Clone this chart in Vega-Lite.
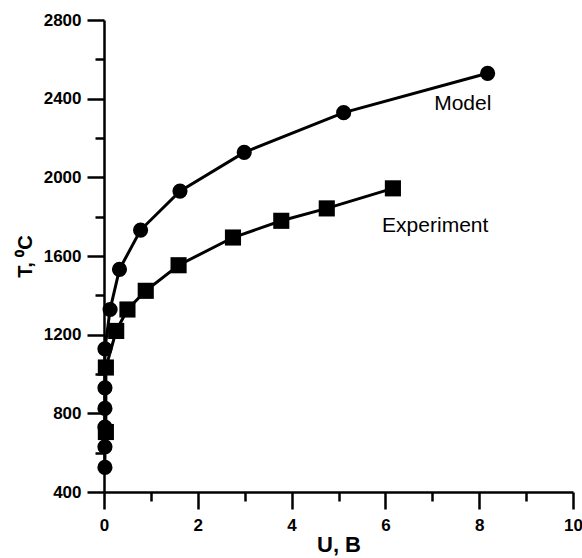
{
  "$schema": "https://vega.github.io/schema/vega-lite/v6.json",
  "width": 469,
  "height": 472,
  "autosize": "none",
  "padding": {"left": 104, "top": 20, "right": 9, "bottom": 66},
  "background": "white",
  "config": {
    "view": {"stroke": null},
    "font": "Liberation Sans"
  },
  "datasets": {
    "model": [
      {"U": 0.02, "T": 525},
      {"U": 0.02, "T": 630},
      {"U": 0.02, "T": 730},
      {"U": 0.02, "T": 825},
      {"U": 0.02, "T": 930},
      {"U": 0.02, "T": 1128},
      {"U": 0.13, "T": 1328},
      {"U": 0.33, "T": 1532},
      {"U": 0.78, "T": 1732},
      {"U": 1.62, "T": 1930},
      {"U": 2.99, "T": 2127},
      {"U": 5.11, "T": 2329},
      {"U": 8.18, "T": 2529}
    ],
    "experiment": [
      {"U": 0.04, "T": 705},
      {"U": 0.04, "T": 1033},
      {"U": 0.26, "T": 1219},
      {"U": 0.5, "T": 1328},
      {"U": 0.89, "T": 1423},
      {"U": 1.59, "T": 1553},
      {"U": 2.75, "T": 1694},
      {"U": 3.78, "T": 1779},
      {"U": 4.75, "T": 1842},
      {"U": 6.16, "T": 1944}
    ],
    "labels": [
      {"U": 7.04, "T": 2342, "label": "Model"},
      {"U": 5.93, "T": 1723, "label": "Experiment"}
    ]
  },
  "encoding": {
    "x": {
      "field": "U",
      "type": "quantitative",
      "scale": {"domain": [0, 10], "nice": false, "zero": false},
      "axis": {
        "title": "U, B",
        "values": [0, 1, 2, 3, 4, 5, 6, 7, 8, 9, 10],
        "labelExpr": "datum.value % 2 === 0 ? datum.label : ''",
        "grid": false,
        "domainColor": "black",
        "domainWidth": 2.5,
        "tickColor": "black",
        "tickWidth": 2.5,
        "tickSize": {"condition": {"test": "datum.value % 2 !== 0", "value": 9}, "value": 17},
        "labelFont": "Liberation Sans",
        "labelFontWeight": "bold",
        "labelFontSize": 17,
        "labelColor": "black",
        "labelPadding": 8,
        "labelFlush": false,
        "titleFont": "Liberation Sans",
        "titleFontWeight": "bold",
        "titleFontSize": 22,
        "titleColor": "black",
        "titlePadding": 1
      }
    },
    "y": {
      "field": "T",
      "type": "quantitative",
      "scale": {"domain": [400, 2800], "nice": false, "zero": false},
      "axis": {
        "title": "T, ⁰C",
        "values": [400, 600, 800, 1000, 1200, 1400, 1600, 1800, 2000, 2200, 2400, 2600, 2800],
        "labelExpr": "datum.value % 400 === 0 ? datum.label : ''",
        "format": "d",
        "grid": false,
        "domainColor": "black",
        "domainWidth": 2.5,
        "tickColor": "black",
        "tickWidth": 2.5,
        "tickSize": {"condition": {"test": "datum.value % 400 !== 0", "value": 9}, "value": 17},
        "labelFont": "Liberation Sans",
        "labelFontWeight": "bold",
        "labelFontSize": 17,
        "labelColor": "black",
        "labelPadding": 6,
        "labelFlush": false,
        "titleFont": "Liberation Sans",
        "titleFontWeight": "bold",
        "titleFontSize": 20,
        "titleColor": "black",
        "titlePadding": 8
      }
    }
  },
  "layer": [
    {
      "data": {"name": "model"},
      "mark": {"type": "line", "color": "black", "strokeWidth": 3, "interpolate": "linear"},
      "encoding": {"order": {"field": "T", "type": "quantitative"}}
    },
    {
      "data": {"name": "model"},
      "mark": {"type": "point", "shape": "circle", "filled": true, "color": "black", "opacity": 1, "size": 230}
    },
    {
      "data": {"name": "experiment"},
      "mark": {"type": "line", "color": "black", "strokeWidth": 3, "interpolate": "linear"},
      "encoding": {"order": {"field": "T", "type": "quantitative"}}
    },
    {
      "data": {"name": "experiment"},
      "mark": {"type": "point", "shape": "square", "filled": true, "color": "black", "opacity": 1, "size": 260}
    },
    {
      "data": {"name": "labels"},
      "mark": {"type": "text", "align": "left", "baseline": "alphabetic", "font": "Liberation Sans", "fontSize": 21, "color": "black"},
      "encoding": {"text": {"field": "label"}}
    }
  ]
}
